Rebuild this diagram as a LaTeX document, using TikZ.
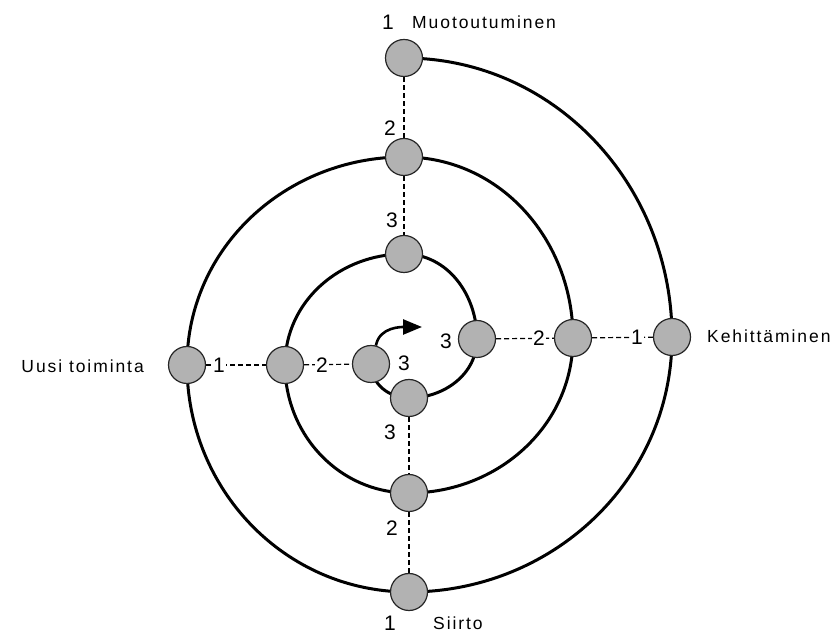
\documentclass[tikz,border=0pt]{standalone}
\usepackage{fontspec}
\setmainfont{Liberation Sans}
\newfontfamily\lblfont[LetterSpace=11]{Liberation Sans}
\usetikzlibrary{arrows.meta,backgrounds}
\begin{document}
\begin{tikzpicture}[x=1pt,y=1pt,
  stage/.style={circle, minimum size=37pt, inner sep=0pt, fill=black!30, draw=black!85, line width=1.2pt},
  spiral/.style={line width=3pt, line cap=round},
  link/.style={line width=1.2pt, dash pattern=on 5pt off 3pt},
  num/.style={font=\fontsize{21}{21}\selectfont, inner sep=1pt},
  inum/.style={num, fill=white},
  title/.style={font=\lblfont\fontsize{17.5}{17.5}\selectfont, inner sep=0pt},
]
\useasboundingbox (0,0) rectangle (840,634);
% stages
\node[stage] (top1) at (404,576) {};
\node[stage] (top2) at (404,477) {};
\node[stage] (top3) at (404,380) {};
\node[stage] (right1) at (672,297) {};
\node[stage] (right2) at (573,296) {};
\node[stage] (right3) at (477,295) {};
\node[stage] (bot1) at (409,42) {};
\node[stage] (bot2) at (409,141) {};
\node[stage] (bot3) at (409,236) {};
\node[stage] (left1) at (187,269) {};
\node[stage] (left2) at (285,269) {};
\node[stage] (ctr) at (371,270) {};
\coordinate (tip) at (422,307);
% labels
\node[num] (t1) at (388,612) {1};
\node[title, anchor=west] (muo) at (412,612) {Muotoutuminen};
\node[num] (t2) at (390,506) {2};
\node[num] (t3) at (392,414) {3};
\node[num] (c3) at (404,271) {3};
\node[num] (r3) at (446,293) {3};
\node[inum] (r2) at (539,296) {2};
\node[inum] (r1) at (637,297) {1};
\node[title, anchor=west] (keh) at (707,298) {Kehittäminen};
\node[title, anchor=east] (uusi) at (144,268) {Uusi toiminta};
\node[inum] (l1) at (219,269) {1};
\node[inum] (l2) at (322,269) {2};
\node[num] (b3) at (390,202) {3};
\node[num] (b2) at (392,106) {2};
\node[num] (b1) at (390,11) {1};
\node[title, anchor=west] (sii) at (433,11) {Siirto};
\begin{pgfonlayer}{background}
\draw[spiral] (top1.center) to[out=0,in=90] (right1.center)
  to[out=-90,in=0] (bot1.center) to[out=180,in=-90] (left1.center)
  to[out=90,in=180] (top2.center) to[out=0,in=90] (right2.center)
  to[out=-90,in=0] (bot2.center) to[out=180,in=-90] (left2.center)
  to[out=90,in=180] (top3.center) to[out=0,in=90] (right3.center)
  to[out=-90,in=0] (bot3.center) to[out=180,in=-90] (ctr.center);
\draw[link] (top1) -- (top2);
\draw[link] (top2) -- (top3);
\draw[link] (bot3) -- (bot2);
\draw[link] (bot2) -- (bot1);
\draw[link] (left1) -- (left2);
\draw[link] (left2) -- (ctr);
\draw[link] (right3) -- (right2);
\draw[link] (right2) -- (right1);
\end{pgfonlayer}
\draw[line width=2.6pt, -{Triangle[length=19pt,width=15pt]}] (ctr.75) to[out=80,in=180] (tip);
\end{tikzpicture}
\end{document}
